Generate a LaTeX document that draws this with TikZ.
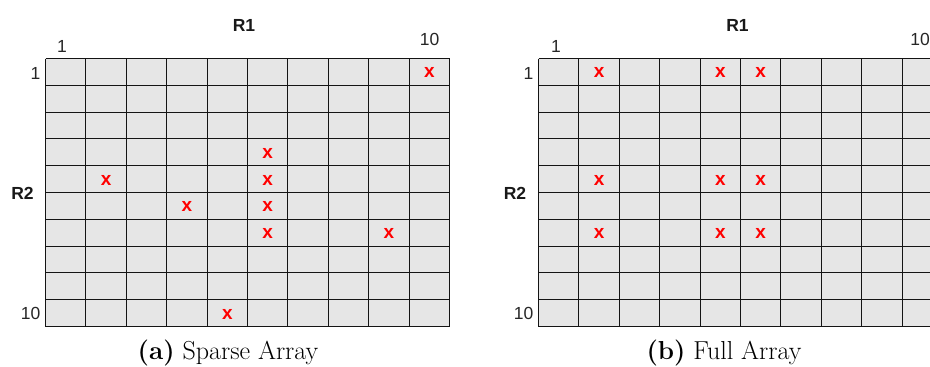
\documentclass[tikz,border=0pt]{standalone}
\usepackage{fontspec}
\newfontfamily\lsans{Liberation Sans}
\definecolor{cellgray}{RGB}{230,230,230}
\definecolor{xred}{RGB}{255,0,0}
\definecolor{gline}{RGB}{20,20,20}
\begin{document}
\begin{tikzpicture}[x=1pt,y=-1pt,
  numlbl/.style={font=\lsans\fontsize{17.5}{18}\selectfont, inner sep=0pt, text=black!85},
  axislbl/.style={font=\lsans\bfseries\fontsize{17.5}{18}\selectfont, inner sep=0pt, text=black!90},
  xmark/.style={font=\lsans\bfseries\fontsize{19}{20}\selectfont, text=xred, inner sep=0pt},
  captxt/.style={font=\fontsize{26}{28}\selectfont, inner sep=0pt, anchor=base},
  gridline/.style={draw=gline, line width=1.2pt}
]
\useasboundingbox (0,0) rectangle (930,367);
\clip (0,0) rectangle (930,367);

% ---------- (a) Sparse Array ----------
\begin{scope}[shift={(45.5,58.5)}]
  \fill[cellgray] (0,0) rectangle (404,268);
  \foreach \i in {0,...,10} {\draw[gridline] ({round(\i*40.4)},0) -- ({round(\i*40.4)},268);}
  \foreach \j in {0,...,10} {\draw[gridline] (0,{round(\j*26.8)}) -- (404,{round(\j*26.8)});}
  \node[axislbl] (aR1) at (198.5,-33.5) {R1};
  \node[axislbl] (aR2) at (-23,135) {R2};
  \node[numlbl] (aTop1) at (16.5,-12) {1};
  \node[numlbl] (aTop10) at (384,-19.5) {10};
  \node[numlbl, anchor=east] (aLeft1) at (-5,14.5) {1};
  \node[numlbl, anchor=east] (aLeft10) at (-5,254.5) {10};
  \foreach \c/\r [count=\k] in {10/1, 6/4, 2/5, 6/5, 4/6, 6/6, 6/7, 9/7, 5/10}
    \node[xmark] (ax\k) at ({(\c-0.5)*40.4},{(\r-0.5)*26.8+1}) {x};
  \node[captxt] (acap) at (182.5,301) {\textbf{(a)} Sparse Array};
\end{scope}

% ---------- (b) Full Array ----------
\begin{scope}[shift={(538.5,58.5)}]
  \fill[cellgray] (0,0) rectangle (404,268);
  \foreach \i in {0,...,10} {\draw[gridline] ({round(\i*40.4)},0) -- ({round(\i*40.4)},268);}
  \foreach \j in {0,...,10} {\draw[gridline] (0,{round(\j*26.8)}) -- (404,{round(\j*26.8)});}
  \node[axislbl] (bR1) at (199,-33.5) {R1};
  \node[axislbl] (bR2) at (-23.5,135) {R2};
  \node[numlbl] (bTop1) at (17.5,-12) {1};
  \node[numlbl] (bTop10) at (381.5,-19.5) {10};
  \node[numlbl, anchor=east] (bLeft1) at (-5,14.5) {1};
  \node[numlbl, anchor=east] (bLeft10) at (-5,254.5) {10};
  \foreach \c in {2,5,6} {
    \foreach \r in {1,5,7} {
      \node[xmark] (bx\c\r) at ({(\c-0.5)*40.4},{(\r-0.5)*26.8+1}) {x};
    }
  }
  \node[captxt] (bcap) at (185.5,301) {\textbf{(b)} Full Array};
\end{scope}
\end{tikzpicture}
\end{document}
